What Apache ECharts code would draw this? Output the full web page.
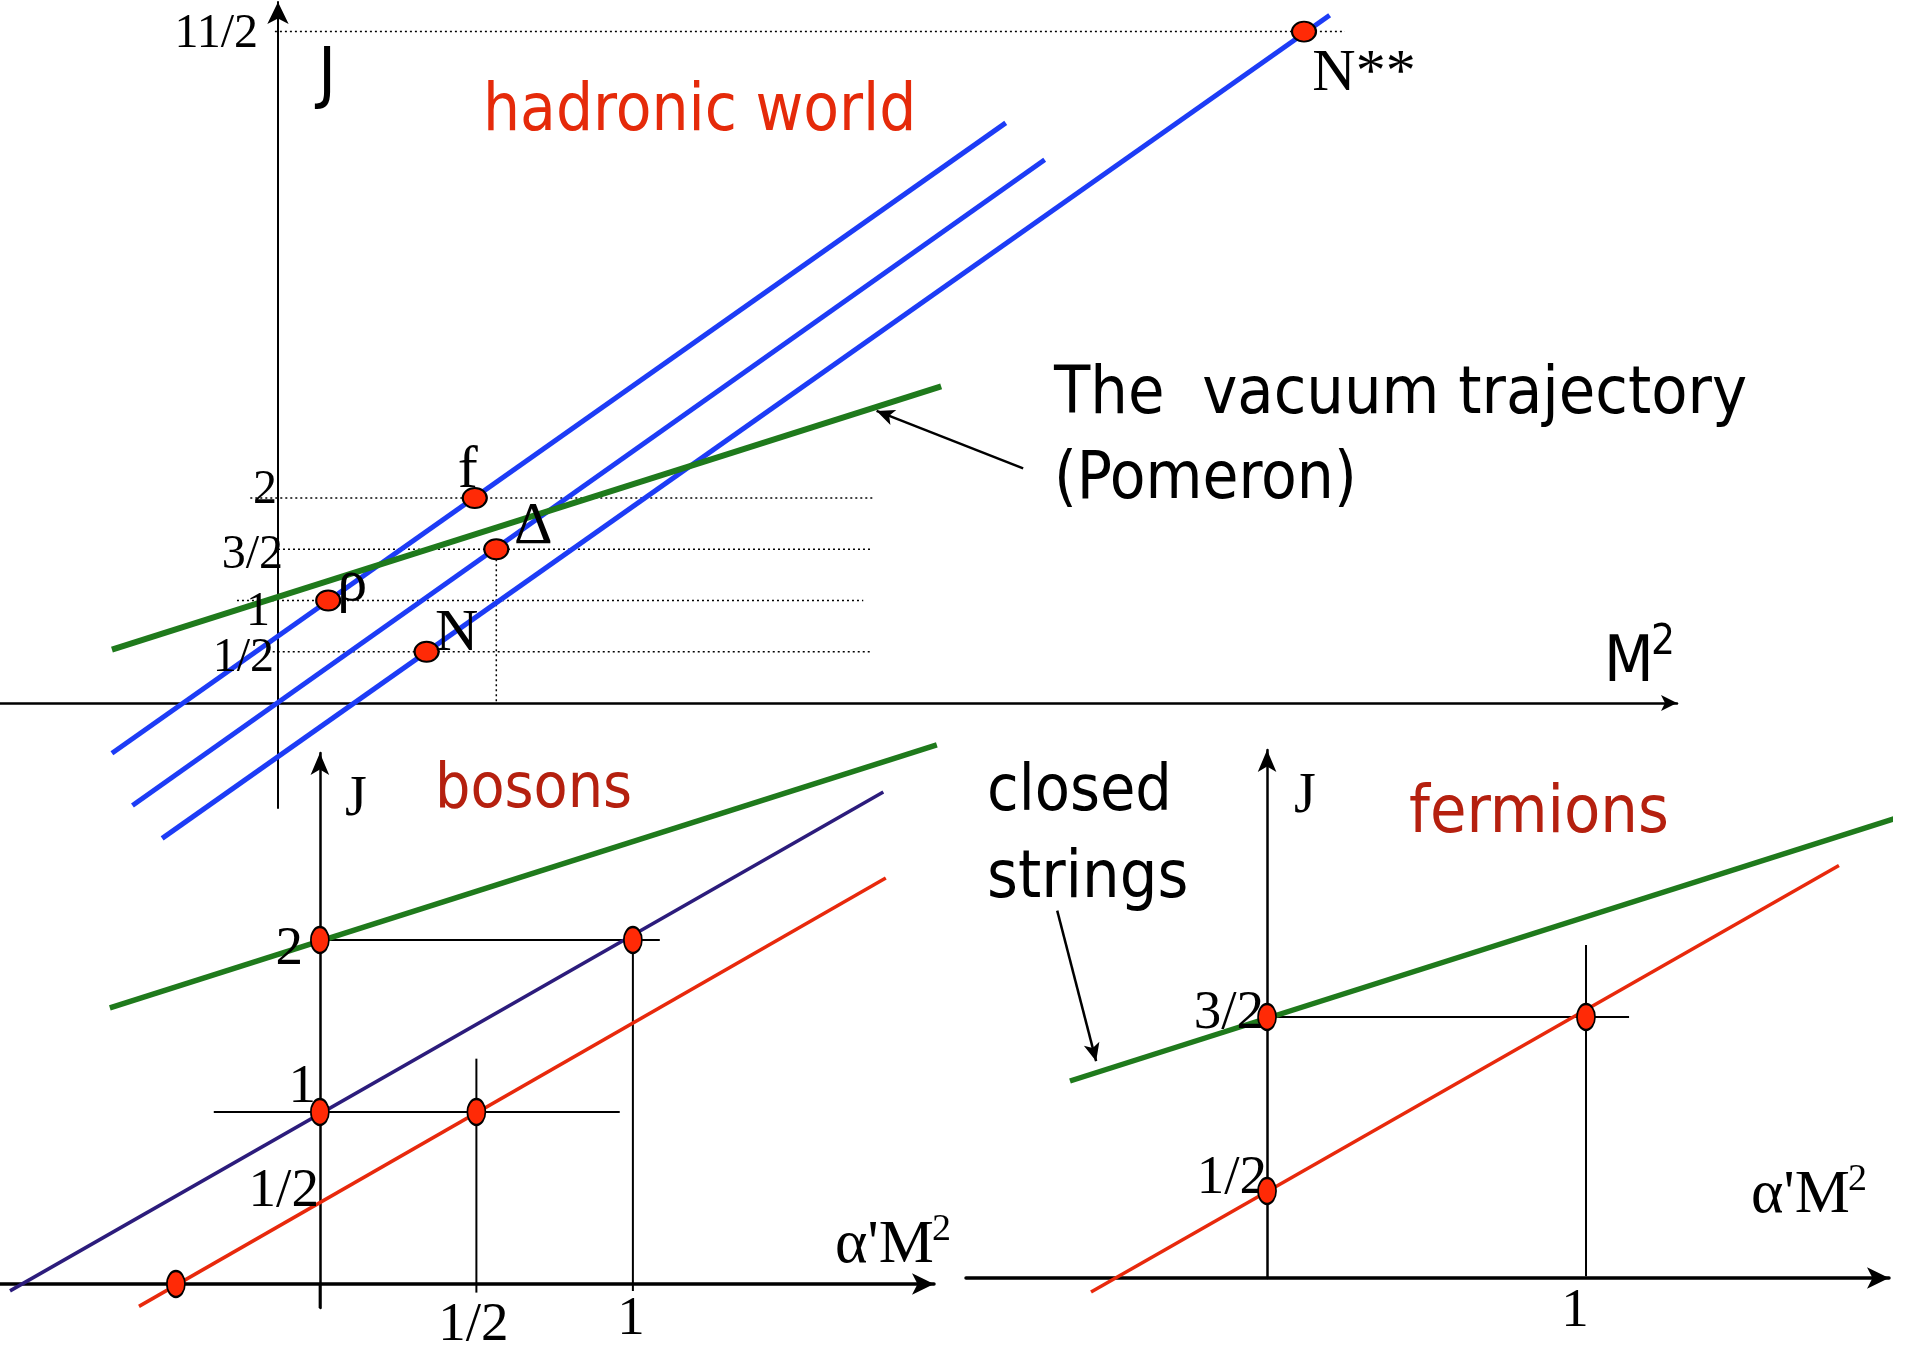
<!DOCTYPE html>
<html>
<head>
<meta charset="utf-8">
<title>Regge trajectories</title>
<script src="https://cdn.jsdelivr.net/npm/echarts@6/dist/echarts.min.js"></script>
<style>
  html, body { margin: 0; padding: 0; background: #fff; }
  #chart { width: 1905px; height: 1350px; }
</style>
</head>
<body>
<div id="chart"></div>
<script>
// ---------- hadronic world (top panel): x = M^2, y = J ----------
var hadNames = ['ρ', 'f', 'Δ', 'N', 'N**'];
var hadM2 = [0.49, 1.92, 2.13, 1.45, 10.01];
var hadJ = [1, 2, 1.5, 0.5, 6.55];
var hadTicks = [0.5, 1, 1.5, 2, 6.55];
var hadTickLabels = ['1/2', '1', '3/2', '2', '11/2'];
var rhoTraj = [[-1.62, -0.49], [7.10, 5.66]];
var deltaTraj = [[-1.42, -1.0], [7.48, 5.3]];
var nuclTraj = [[-1.13, -1.32], [10.26, 6.71]];
var pomeron = [[-1.62, 0.52], [6.47, 3.09]];
var hadGuideJ = [6.55, 2, 1.5, 1, 0.5];
var hadGuideFrom = [-0.03, -0.27, 0, -0.4, -0.1];
var hadGuideTo = [10.41, 5.8, 5.8, 5.71, 5.78];
var deltaDrop = [[2.13, 1.5], [2.13, 0]];
var vacuumArrow = [[7.27, 2.29], [5.84, 2.85]];

// ---------- bosons (bottom left): x = a'M^2, y = J ----------
var bosM2 = [0, 1, 0, 0.5, -0.46];
var bosJ = [2, 2, 1, 1, 0];
var bosJTicks = [2, 1, 0.5];
var bosJTickLabels = ['2', '1', '1/2'];
var bosXTicks = [0.5, 1];
var bosXTickLabels = ['1/2', '1'];
var bosLeading = [[-0.99, -0.04], [1.80, 2.86]];
var bosDaughter = [[-0.578, -0.13], [1.808, 2.36]];
var bosClosed = [[-0.671, 1.605], [1.971, 3.134]];
var bosGuides = [
  [[0, 2], [1.086, 2]],
  [[-0.339, 1], [0.958, 1]],
  [[0.5, 1.31], [0.5, -0.05]],
  [[1, 2], [1, -0.04]]
];
var closedArrowA = [[2.15, 2.459], [1.473, 2.802]];

// ---------- fermions (bottom right) ----------
var ferM2 = [0, 0, 1];
var ferJ = [1.5, 0.5, 1.5];
var ferJTicks = [1.5, 0.5];
var ferJTickLabels = ['3/2', '1/2'];
var ferXTicks = [1];
var ferXTickLabels = ['1'];
var ferLeading = [[-0.552, -0.08], [1.793, 2.37]];
var ferClosed = [[-0.618, 1.132], [1.975, 2.644]];
var ferGuides = [
  [[0, 1.5], [1.135, 1.5]],
  [[1, 1.914], [1, 0.01]]
];
var closedArrowB = [[-0.658, 2.111], [-0.536, 1.246]];

var COMIC = "'DejaVu Sans Condensed', 'Liberation Sans Narrow', 'DejaVu Sans', sans-serif";
var SERIF = "'Liberation Serif', 'DejaVu Serif', serif";
var BLUE = '#1d3cf6', GREEN = '#1f7a1c', PURPLE = '#2c1c7c', RED = '#e8290c', DOT = '#ff2a06';

var chart = echarts.init(document.getElementById('chart'));

function seg(gi, pts, color, width, dash, z) {
  return {
    type: 'line', xAxisIndex: gi, yAxisIndex: gi, data: pts, symbol: 'none',
    clip: false, silent: true, z: z || 3, animation: false,
    lineStyle: { color: color, width: width, type: dash || 'solid', cap: 'butt' }
  };
}

function arrow(gi, pts) {
  return {
    type: 'line', xAxisIndex: gi, yAxisIndex: gi, data: pts, symbol: 'none',
    clip: false, silent: true, z: 4, animation: false,
    lineStyle: { opacity: 0 },
    markLine: {
      silent: true, animation: false, symbol: ['none', 'arrow'], symbolSize: [12, 18],
      label: { show: false },
      lineStyle: { color: '#000', width: 2.5, type: 'solid' },
      data: [[{ coord: pts[0] }, { coord: pts[1] }]]
    }
  };
}

function dots(gi, xs, ys, size, names, nudge) {
  var data = xs.map(function (x, i) {
    var item = { value: [x, ys[i]] };
    if (names) {
      item.label = {
        show: true, formatter: names[i], position: 'inside', offset: nudge[i],
        fontFamily: SERIF, fontSize: 60, color: '#000'
      };
    }
    return item;
  });
  return {
    type: 'scatter', xAxisIndex: gi, yAxisIndex: gi, data: data, symbol: 'circle',
    symbolSize: size, clip: false, silent: true, z: 6, animation: false,
    itemStyle: { color: DOT, borderColor: '#000', borderWidth: 2, opacity: 1 }
  };
}

function ticks(gi, axis, vals, labels, nudge, fontSize) {
  var data = vals.map(function (v, i) {
    return {
      value: axis === 'y' ? [0, v] : [v, 0],
      label: {
        show: true, formatter: labels[i], color: '#000',
        position: axis === 'y' ? 'left' : 'bottom',
        distance: nudge[i][0],
        offset: axis === 'y' ? [0, nudge[i][1]] : [nudge[i][1], 0]
      }
    };
  });
  return {
    type: 'scatter', xAxisIndex: gi, yAxisIndex: gi, data: data, symbolSize: 0,
    clip: false, silent: true, z: 5, animation: false,
    itemStyle: { opacity: 1 },
    label: { fontFamily: SERIF, fontSize: fontSize, color: '#000' }
  };
}

function axisPair(gi, xr, yr, xw, yw, xArrow, yArrow) {
  var hide = { axisTick: { show: false }, axisLabel: { show: false }, splitLine: { show: false } };
  return {
    x: Object.assign({
      type: 'value', gridIndex: gi, min: xr[0], max: xr[1],
      axisLine: { show: true, onZero: true, symbol: ['none', 'arrow'], symbolSize: xArrow,
        lineStyle: { color: '#000', width: xw } }
    }, hide),
    y: Object.assign({
      type: 'value', gridIndex: gi, min: yr[0], max: yr[1],
      axisLine: { show: true, onZero: true, symbol: ['none', 'arrow'], symbolSize: yArrow,
        lineStyle: { color: '#000', width: yw } }
    }, hide)
  };
}

var a0 = axisPair(0, [-2.712, 13.649], [-1.024, 6.839], 2.5, 2, [12, 16], [16, 22]);
var a1 = axisPair(1, [-1.022, 1.962], [-0.1395, 3.087], 3.5, 2.5, [16, 22], [14, 22]);
var a2 = axisPair(2, [-0.944, 1.95], [0, 3.034], 3.5, 2.5, [16, 22], [14, 22]);

var series = [];
// top panel
hadGuideJ.forEach(function (j, i) {
  series.push(seg(0, [[hadGuideFrom[i], j], [hadGuideTo[i], j]], '#000', 1.5, [2, 3], 1));
});
series.push(seg(0, deltaDrop, '#000', 1.5, [2, 3], 1));
series.push(seg(0, rhoTraj, BLUE, 5));
series.push(seg(0, deltaTraj, BLUE, 5));
series.push(seg(0, nuclTraj, BLUE, 5));
series.push(seg(0, pomeron, GREEN, 6));
series.push(arrow(0, vacuumArrow));
series.push(ticks(0, 'y', hadTicks, hadTickLabels, [[4, 7], [8, 12], [-5, 6], [1, -8], [20, 3]], 48));
series.push(dots(0, hadM2, hadJ, [24, 20], hadNames, [[24, -16], [-7, -27], [37, -22], [30, -18], [60, 43]]));

// bosons
bosGuides.forEach(function (g) { series.push(seg(1, g, '#000', 2, 'solid', 2)); });
series.push(seg(1, [[0, -0.14], [0, 0]], '#000', 2.5, 'solid', 2));
series.push(seg(1, bosClosed, GREEN, 5.5));
series.push(seg(1, bosLeading, PURPLE, 3.5));
series.push(seg(1, bosDaughter, RED, 3.5));
series.push(arrow(1, closedArrowA));
series.push(ticks(1, 'y', bosJTicks, bosJTickLabels, [[17, 10], [4, -24], [1, -6]], 55));
series.push(ticks(1, 'x', bosXTicks, bosXTickLabels, [[14, -3], [8, -2]], 55));
series.push(dots(1, bosM2, bosJ, [18, 26]));

// fermions
ferGuides.forEach(function (g) { series.push(seg(2, g, '#000', 2, 'solid', 2)); });
series.push(seg(2, ferClosed, GREEN, 5.5));
series.push(seg(2, ferLeading, RED, 3.5));
series.push(arrow(2, closedArrowB));
series.push(ticks(2, 'y', ferJTicks, ferJTickLabels, [[3, -3], [0, -12]], 55));
series.push(ticks(2, 'x', ferXTicks, ferXTickLabels, [[6, -11]], 55));
series.push(dots(2, ferM2, ferJ, [18, 26]));

function txt(x, y, text, font, color, align) {
  return {
    type: 'text', x: x, y: y, silent: true, z: 10,
    style: { text: text, font: font, fill: color || '#000', textAlign: align || 'left', textVerticalAlign: 'middle' }
  };
}

var graphics = [
  txt(327, 77, 'J', '68px ' + COMIC, '#000', 'center'),
  txt(483, 113, 'hadronic world', '65px ' + COMIC, '#e52a0a'),
  txt(1054, 396, 'The  vacuum trajectory', '66px ' + COMIC),
  txt(1054, 481, '(Pomeron)', '65px ' + COMIC),
  txt(1604, 664, 'M', '64px ' + COMIC),
  txt(1651, 643, '2', '42px ' + COMIC),
  txt(435, 791, 'bosons', '62px ' + COMIC, '#b5200f'),
  txt(1409, 815, 'fermions', '66px ' + COMIC, '#b5200f'),
  txt(987, 793, 'closed', '64px ' + COMIC),
  txt(987, 880, 'strings', '66px ' + COMIC),
  txt(356, 800, 'J', '56px ' + SERIF, '#000', 'center'),
  txt(835, 1246, "α'M", '62px ' + SERIF),
  txt(932, 1230, '2', '38px ' + SERIF),
  txt(1305, 797, 'J', '56px ' + SERIF, '#000', 'center'),
  txt(1751, 1196, "α'M", '62px ' + SERIF),
  txt(1848, 1180, '2', '38px ' + SERIF)
];

chart.setOption({
  animation: false,
  backgroundColor: '#fff',
  grid: [
    { left: 0, top: 2, width: 1677, height: 806, containLabel: false, outerBoundsMode: 'none' },
    { left: 0, top: 753, width: 934, height: 555, containLabel: false, outerBoundsMode: 'none' },
    { left: 966, top: 750, width: 923, height: 528, containLabel: false, outerBoundsMode: 'none' }
  ],
  xAxis: [a0.x, a1.x, a2.x],
  yAxis: [a0.y, a1.y, a2.y],
  series: series,
  graphic: graphics
});
</script>
</body>
</html>
